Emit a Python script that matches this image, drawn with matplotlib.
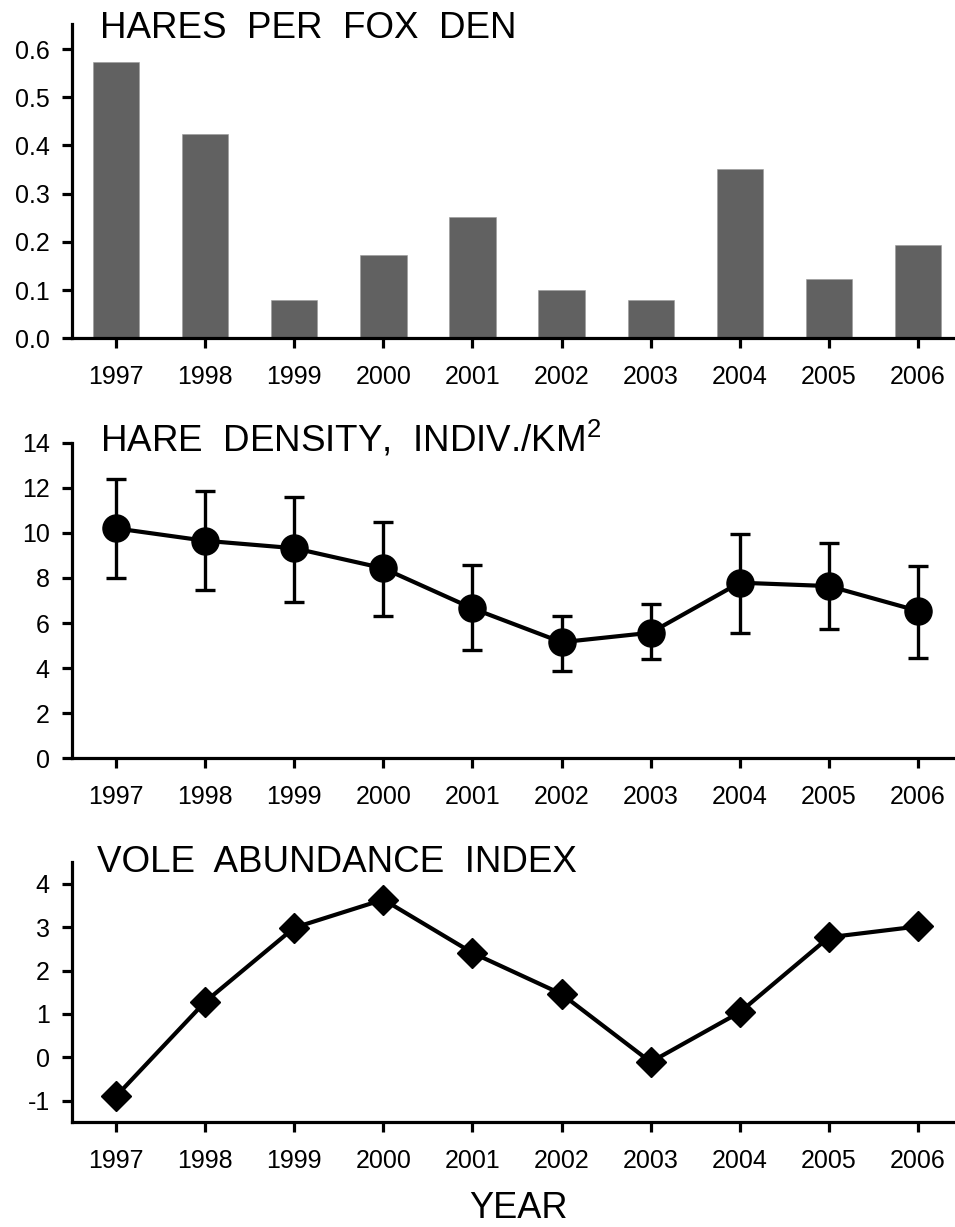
import matplotlib
matplotlib.use("Agg")
from matplotlib import pyplot as plt
import numpy as np

plt.rcParams["font.family"] = ["Liberation Sans", "DejaVu Sans"]
plt.rcParams["axes.unicode_minus"] = False
plt.rcParams["mathtext.fontset"] = "custom"
plt.rcParams["mathtext.rm"] = "Liberation Sans"
plt.rcParams["mathtext.it"] = "Liberation Sans:italic"

years = [1997, 1998, 1999, 2000, 2001, 2002, 2003, 2004, 2005, 2006]

# hares per fox den
hares_per_den = [0.574, 0.423, 0.080, 0.173, 0.252, 0.101, 0.080, 0.351, 0.122, 0.194]

# hare density with error bar ends
hare_density = [10.20, 9.65, 9.32, 8.43, 6.65, 5.15, 5.57, 7.79, 7.64, 6.54]
hare_upper = [12.40, 11.87, 11.59, 10.48, 8.58, 6.31, 6.83, 9.96, 9.54, 8.53]
hare_lower = [7.99, 7.47, 6.95, 6.31, 4.80, 3.89, 4.39, 5.57, 5.72, 4.46]

# vole abundance index
vole_index = [-0.90, 1.28, 2.99, 3.64, 2.41, 1.46, -0.11, 1.04, 2.77, 3.02]

W, H = 955, 1227
fig = plt.figure(figsize=(W / 100, H / 100), dpi=100)


def px_axes(left, right, top, bottom):
    return fig.add_axes([left / W, 1 - bottom / H, (right - left) / W, (bottom - top) / H])


def style(ax):
    for s in ["top", "right"]:
        ax.spines[s].set_visible(False)
    for s in ["left", "bottom"]:
        ax.spines[s].set_linewidth(2.3)
    ax.tick_params(width=2.3, length=7, labelsize=18)
    ax.tick_params(axis="y", pad=9)
    ax.tick_params(axis="x", pad=12.5)
    ax.set_xticks(years)
    ax.set_xticklabels([str(y) for y in years])
    ax.set_xlim(1996.506, 2006.415)


# Panel 1: bars
ax1 = px_axes(72, 955, 24, 338.3)
ax1.bar(years, hares_per_den, width=0.52, color="#616161", edgecolor="#9a9a9a", linewidth=0.4)
ax1.set_ylim(0, 0.652)
ax1.set_yticks([0.0, 0.1, 0.2, 0.3, 0.4, 0.5, 0.6])
ax1.set_yticklabels(["0.0", "0.1", "0.2", "0.3", "0.4", "0.5", "0.6"])
style(ax1)

# Panel 2: hare density
ax2 = px_axes(72, 955, 442.7, 758.3)
yerr = [np.array(hare_density) - np.array(hare_lower),
        np.array(hare_upper) - np.array(hare_density)]
ax2.errorbar(years, hare_density, yerr=yerr, fmt="none", ecolor="black",
             elinewidth=2.4, capsize=7.5, capthick=2.4, zorder=2)
ax2.plot(years, hare_density, "-o", color="black", lw=3.0, markersize=19.5, zorder=3)
ax2.set_ylim(0, 14)
ax2.set_yticks(range(0, 15, 2))
style(ax2)

# Panel 3: vole index
ax3 = px_axes(72, 955, 862.3, 1122.3)
ax3.plot(years, vole_index, "-D", color="black", lw=3.0, markersize=15, zorder=3)
ax3.set_ylim(-1.5, 4.5)
ax3.set_yticks(range(-1, 5))
style(ax3)

# titles
fig.text(100 / W, 1 - 38 / H, "HARES  PER  FOX  DEN", fontsize=26.5, va="baseline")
fig.text(100 / W, 1 - 451.7 / H, "HARE  DENSITY,  INDIV./KM$^{2}$", fontsize=26.5, va="baseline")
fig.text(97 / W, 1 - 871.7 / H, "VOLE  ABUNDANCE  INDEX", fontsize=26.5, va="baseline")
fig.text(518 / W, 1 - 1218 / H, "YEAR", fontsize=26, va="baseline", ha="center")

fig.savefig("out.png", dpi=100)
